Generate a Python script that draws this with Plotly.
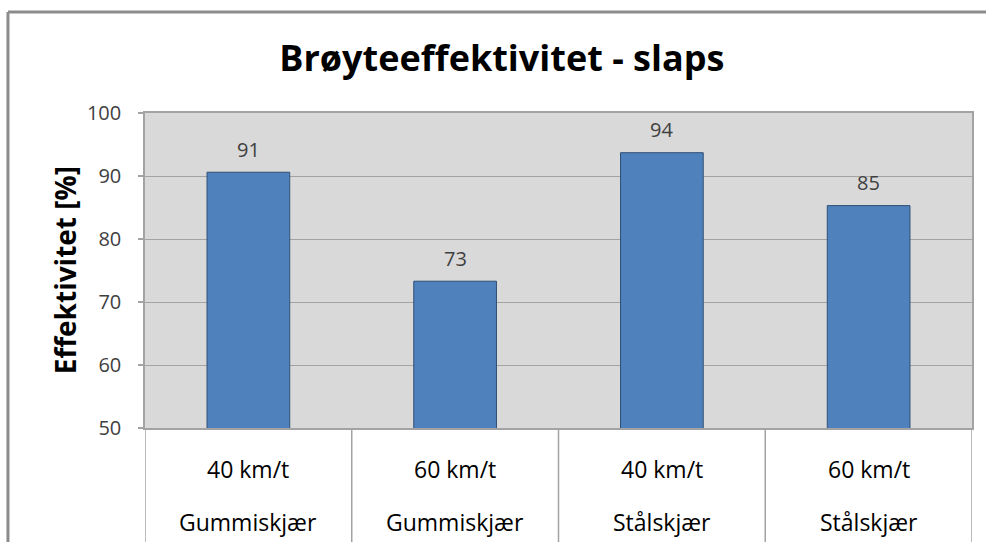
import plotly.graph_objects as go

# Snow-clearing efficiency in slush, by blade type and speed
speeds = ["40 km/t", "60 km/t", "40 km/t", "60 km/t"]
blades = ["Gummiskjær", "Gummiskjær", "Stålskjær", "Stålskjær"]
efficiency = [90.6, 73.3, 93.7, 85.3]
y_ticks = [50, 60, 70, 80, 90, 100]

title_text = "Brøyteeffektivitet - slaps"
y_title = "Effektivitet [%]"

# unique category keys for the x axis
categories = [f"{s} {b}" for s, b in zip(speeds, blades)]

FONT = "Open Sans"
GRID = "#A3A3A3"

fig = go.Figure()
fig.add_trace(go.Bar(
    x=categories,
    y=efficiency,
    width=0.4,
    marker=dict(color="#4F81BD", line=dict(color="#2F4F75", width=1)),
    hoverinfo="x+y",
))

annotations = []
# value labels above the bars
for c, v in zip(categories, efficiency):
    annotations.append(dict(
        x=c, y=v, xref="x", yref="y", text=f"{round(v)}", showarrow=False,
        yanchor="middle", yshift=23,
        font=dict(family=FONT, size=20, color="#404040"),
    ))
# two-row category table under the plot
for c, s, b in zip(categories, speeds, blades):
    annotations.append(dict(
        x=c, y=-0.130, xref="x", yref="paper", text=s, showarrow=False,
        yanchor="middle", font=dict(family=FONT, size=23, color="#000000"),
    ))
    annotations.append(dict(
        x=c, y=-0.298, xref="x", yref="paper", text=b, showarrow=False,
        yanchor="middle", font=dict(family=FONT, size=23, color="#000000"),
    ))
# vertical axis title
annotations.append(dict(
    x=-0.097, y=0.5, xref="paper", yref="paper", text=f"<b>{y_title}</b>",
    textangle=-90, showarrow=False, xanchor="center", yanchor="middle",
    font=dict(family=FONT, size=28, color="#000000"),
))

shapes = []
# separators between category cells
n = len(categories)
for i in range(n + 1):
    shapes.append(dict(
        type="line", xref="x", yref="paper", x0=i - 0.5, x1=i - 0.5,
        y0=0, y1=-0.37, line=dict(color=GRID, width=1.5),
    ))
# chart frame (top and left edges)
FRAME = dict(color="#8C8C8C", width=3)
shapes.append(dict(type="line", xref="paper", yref="paper",
                   x0=-0.1657, x1=-0.1657, y0=-0.40, y1=1.3206, line=FRAME))
shapes.append(dict(type="line", xref="paper", yref="paper",
                   x0=-0.1657, x1=1.05, y0=1.3206, y1=1.3206, line=FRAME))

fig.update_layout(
    width=986, height=542,
    margin=dict(l=145, r=14, t=113, b=114, autoexpand=False),
    paper_bgcolor="#FFFFFF",
    plot_bgcolor="#D9D9D9",
    showlegend=False,
    title=dict(
        text=f"<b>{title_text}</b>", x=0.509, xref="container", xanchor="center",
        y=0.893, yref="container", yanchor="middle",
        font=dict(family=FONT, size=36, color="#000000"),
    ),
    xaxis=dict(
        type="category", range=[-0.5, n - 0.5], showticklabels=False,
        showgrid=False, showline=True, mirror=True, linecolor=GRID, linewidth=1.5,
        ticks="", zeroline=False, fixedrange=True,
    ),
    yaxis=dict(
        range=[50, 100], tickvals=y_ticks, showgrid=True, gridcolor=GRID, gridwidth=1,
        showline=True, mirror=True, linecolor=GRID, linewidth=1.5,
        ticks="outside", ticklen=5, tickcolor=GRID, tickwidth=1.5,
        ticklabelstandoff=13,
        tickfont=dict(family=FONT, size=20, color="#404040"),
        zeroline=False, fixedrange=True,
    ),
    annotations=annotations,
    shapes=shapes,
)

fig.write_html("out.html")
